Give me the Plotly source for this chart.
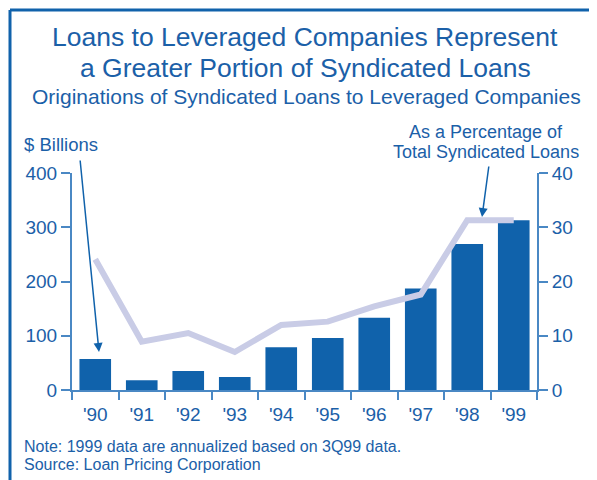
import plotly.graph_objects as go

years = ["'90", "'91", "'92", "'93", "'94", "'95", "'96", "'97", "'98", "'99"]
billions = [57, 18, 35, 24, 79, 96, 133, 187, 269, 313]
percent = [24.1, 8.9, 10.5, 7.0, 12.0, 12.6, 15.4, 17.6, 31.3, 31.3]
left_ticks = [0, 100, 200, 300, 400]
right_ticks = [0, 10, 20, 30, 40]

OFF = 8  # page body margin offset
W, H = 597 - OFF, 480 - OFF
# plot area in reference pixel coords: x 72..537, y 173..390
ML, MR, MT, MB = 72 - OFF, 597 - 537, 173 - OFF, 480 - 390
PW, PH = W - ML - MR, H - MT - MB

def px(x):
    return (x - OFF - ML) / PW

def py(y):
    return (H - MB - (y - OFF)) / PH

TXT = "#1b60a8"
BAR = "#1062ab"
AX = "#4a88c4"
LINE = "#c9cce6"
FONT = "Liberation Sans, Arial, sans-serif"

fig = go.Figure()
fig.add_trace(go.Bar(x=years, y=billions, marker=dict(color=BAR, line=dict(width=0)),
                     width=0.68, yaxis="y"))
fig.add_trace(go.Scatter(x=years, y=percent, mode="lines",
                         line=dict(color=LINE, width=6), yaxis="y2"))

fig.update_layout(
    width=W, height=H,
    margin=dict(l=ML, r=MR, t=MT, b=MB),
    paper_bgcolor="white", plot_bgcolor="white",
    showlegend=False,
    font=dict(family=FONT, color=TXT),
    xaxis=dict(type="category", showgrid=False, showline=True, linecolor=AX, linewidth=2,
               ticks="outside", tickson="boundaries", ticklen=8, tickwidth=2, tickcolor=AX,
               ticklabelstandoff=6,
               tickfont=dict(size=19, color=TXT), zeroline=False),
    yaxis=dict(range=[0, 400], tickvals=left_ticks, showgrid=False, showline=True,
               linecolor=AX, linewidth=2, ticks="outside", ticklen=9, tickwidth=2,
               tickcolor=AX, tickfont=dict(size=19, color=TXT), zeroline=False),
    yaxis2=dict(range=[0, 40], tickvals=right_ticks, overlaying="y", side="right",
                showgrid=False, showline=True, linecolor=AX, linewidth=2, ticks="outside",
                ticklen=9, tickwidth=2, tickcolor=AX, tickfont=dict(size=19, color=TXT),
                zeroline=False),
)

# frame lines (top and left)
fig.add_shape(type="line", xref="paper", yref="paper", x0=px(10), x1=px(600),
              y0=py(10), y1=py(10), line=dict(color=BAR, width=3))
fig.add_shape(type="line", xref="paper", yref="paper", x0=px(10), x1=px(10),
              y0=py(10), y1=py(485), line=dict(color=BAR, width=3))

ann = []
def text(x, y, s, size, xanchor="center"):
    ann.append(dict(x=px(x), y=py(y), xref="paper", yref="paper", text=s, showarrow=False,
                    xanchor=xanchor, yanchor="middle", borderpad=0,
                    font=dict(size=size, color=TXT, family=FONT)))

text(305, 37, "Loans to Leveraged Companies Represent", 26.5)
text(305, 68, "a Greater Portion of Syndicated Loans", 26.5)
text(306, 97, "Originations of Syndicated Loans to Leveraged Companies", 21)
text(23, 145, "$ Billions", 18.5, "left")
text(486, 132, "As a Percentage of", 18)
text(486, 152, "Total Syndicated Loans", 18)
text(23, 446, "Note: 1999 data are annualized based on 3Q99 data.", 16, "left")
text(23, 464, "Source: Loan Pricing Corporation", 16, "left")

# arrows (tail offsets in pixels)
def arrow(hx, hy, tx, ty):
    ann.append(dict(x=px(hx), y=py(hy), xref="paper", yref="paper",
                    ax=tx - hx, ay=ty - hy, axref="pixel", ayref="pixel",
                    text="", showarrow=True, arrowhead=2, arrowsize=1.2,
                    arrowwidth=1.5, arrowcolor=BAR))

arrow(99, 352, 80, 159)
arrow(482, 217, 489, 165)
fig.update_layout(annotations=ann)

fig.write_html("out.html")
